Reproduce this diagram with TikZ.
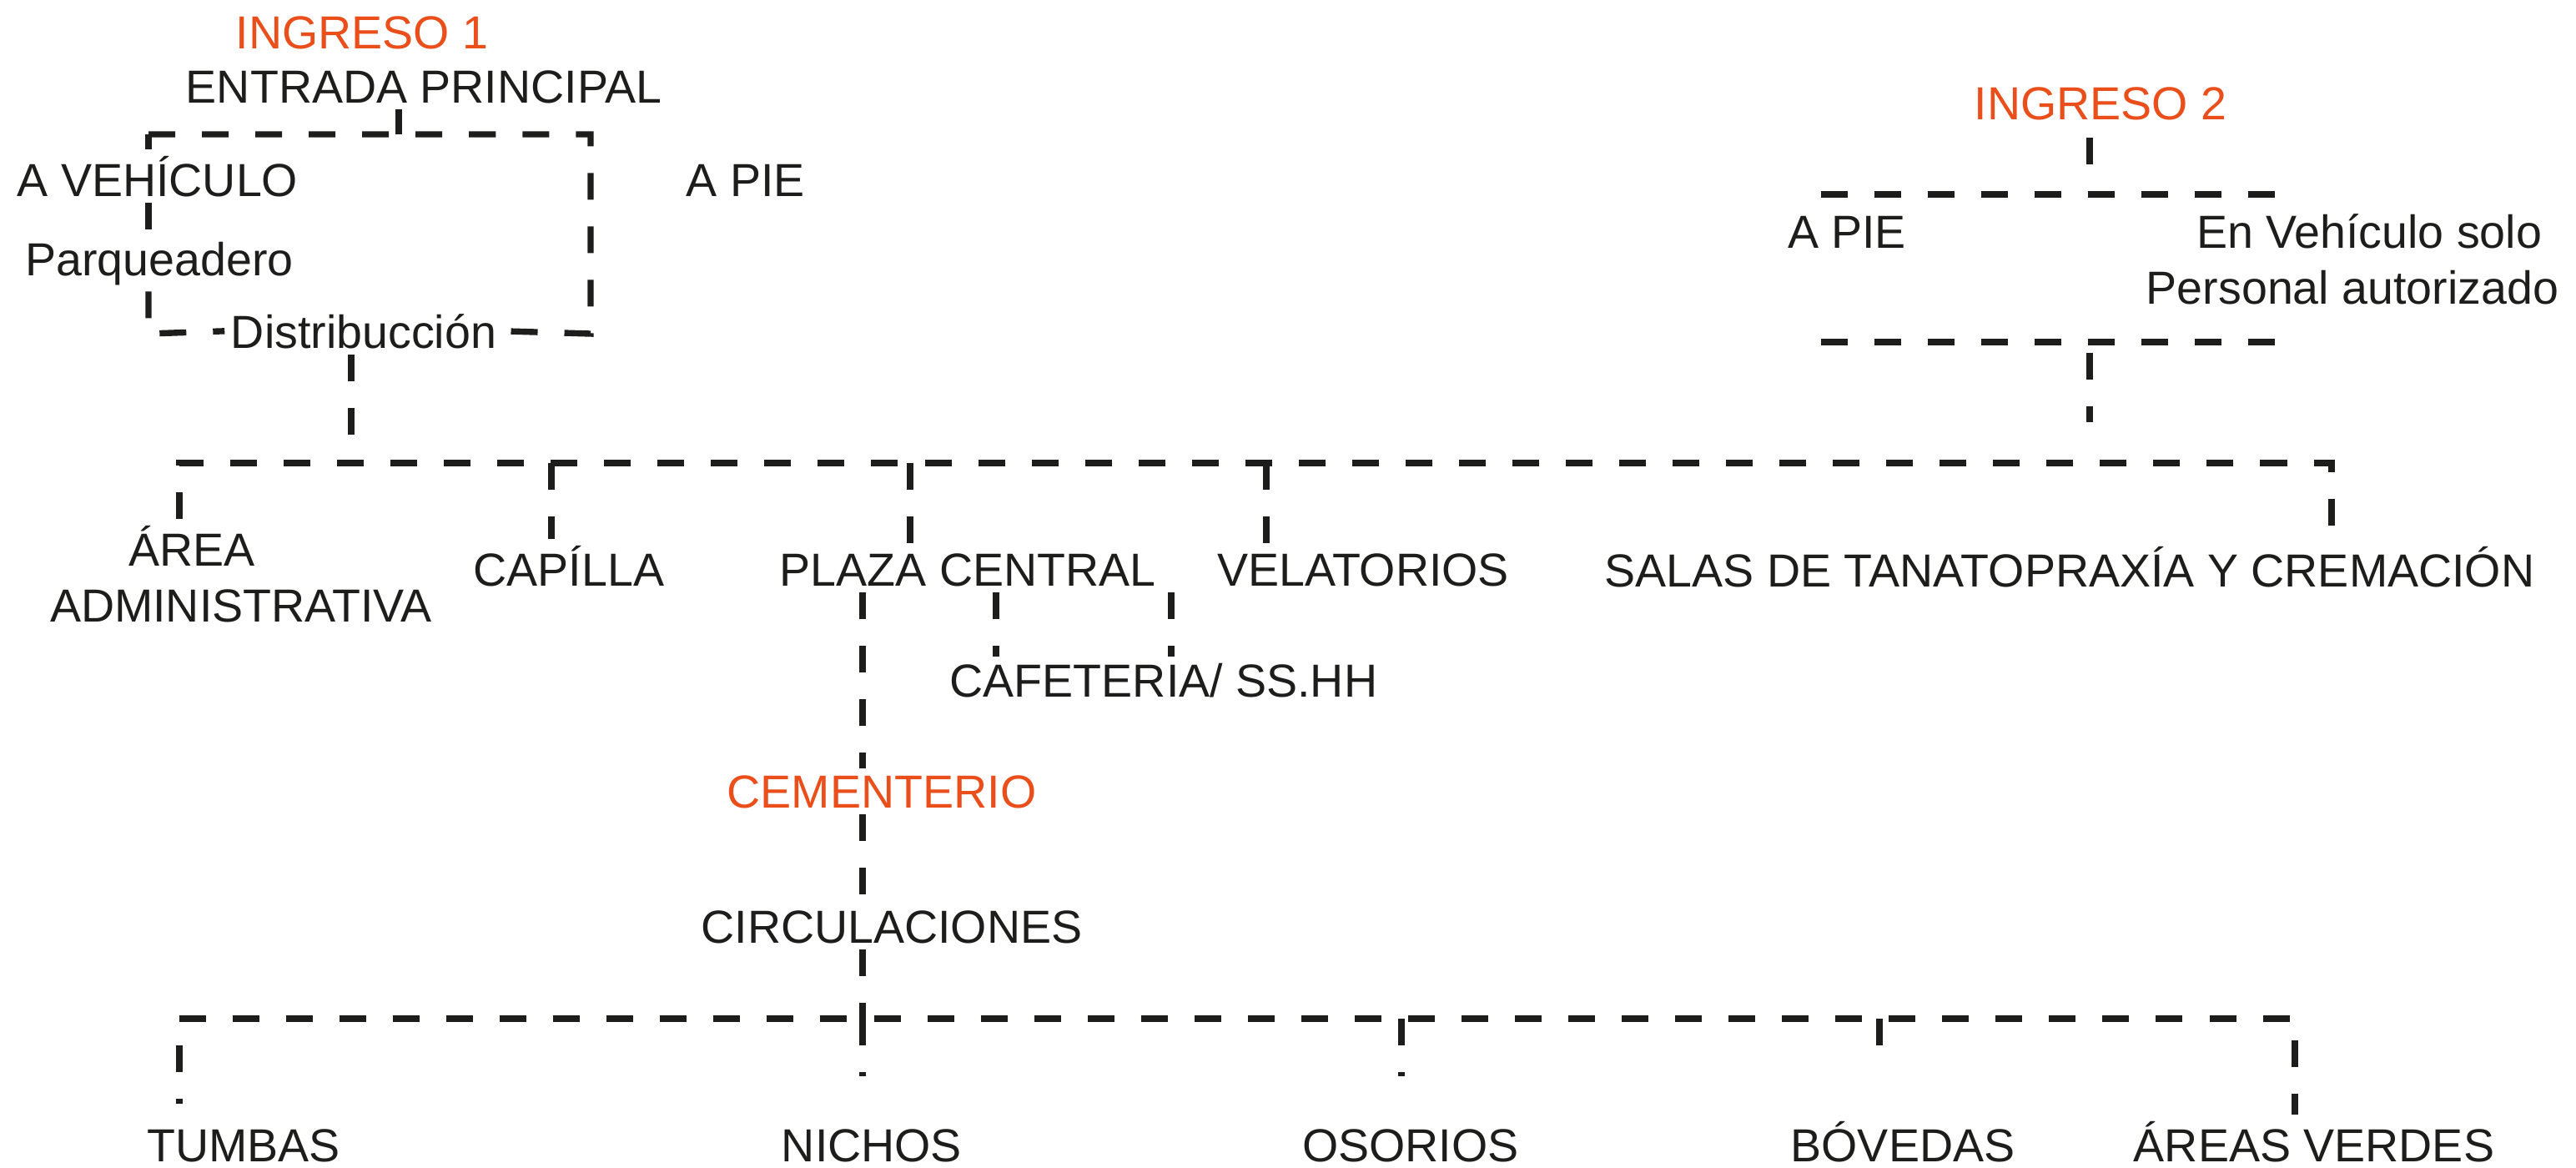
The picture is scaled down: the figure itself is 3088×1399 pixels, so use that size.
\documentclass[tikz,border=0pt]{standalone}
\usepackage{fontspec}
\setmainfont{Liberation Sans}
\usepackage{xcolor}
\usepackage{tikz}
\usetikzlibrary{positioning}
\definecolor{ingreso}{HTML}{E94E1B}
\definecolor{trazo}{HTML}{1D1D1B}

\begin{document}
\begin{tikzpicture}[x=0.01cm, y=-0.01cm, font=\fontsize{15.8}{19}\selectfont,
  lbl/.style={anchor=base, text=trazo, inner sep=2pt},
  ingr/.style={anchor=base, text=ingreso, inner sep=2pt},
  conn/.style={draw=trazo, line width=2.1pt, dash pattern=on 0.32cm off 0.32cm}]
  \useasboundingbox (0,0) rectangle (3088,1399);
  \node[ingr] (ing1) at (434,58) {INGRESO 1};
  \node[lbl] (entrada) at (508,123) {ENTRADA PRINCIPAL};
  \node[lbl] (vehiculo) at (189,235) {A VEHÍCULO};
  \node[lbl] (pie1) at (894,235) {A PIE};
  \node[lbl] (parqueo) at (191,330) {Parqueadero};
  \node[lbl] (distrib) at (436,417) {Distribucción};
  \node[ingr] (ing2) at (2518,143) {INGRESO 2};
  \node[lbl] (pie2) at (2214,297) {A PIE};
  \node[lbl] (vehic2) at (2840,297) {En Vehículo solo};
  \node[lbl] (personal) at (2820,364) {Personal autorizado};
  \node[lbl] (area) at (230,678) {ÁREA};
  \node[lbl] (admin) at (289,745) {ADMINISTRATIVA};
  \node[lbl] (capilla) at (682,702) {CAPÍLLA};
  \node[lbl] (plaza) at (1160,702) {PLAZA CENTRAL};
  \node[lbl] (velatorio) at (1634,702) {VELATORIOS};
  \node[lbl] (salas) at (2481,703) {SALAS DE TANATOPRAXÍA Y CREMACIÓN};
  \node[lbl] (cafe) at (1395,835) {CAFETERIA/ SS.HH};
  \node[ingr] (cement) at (1057,968) {CEMENTERIO};
  \node[lbl] (circ) at (1069,1130) {CIRCULACIONES};
  \node[lbl] (tumbas) at (292,1392) {TUMBAS};
  \node[lbl] (nichos) at (1045,1392) {NICHOS};
  \node[lbl] (osorios) at (1691,1392) {OSORIOS};
  \node[lbl] (bovedas) at (2281,1392) {BÓVEDAS};
  \node[lbl] (verdes) at (2774,1392) {ÁREAS VERDES};
  \coordinate (boxnw) at (178,161);
  \coordinate (boxne) at (708,161);
  \coordinate (boxsw) at (178,400);
  \coordinate (boxse) at (708,400);
  \coordinate (entx) at (478,161);
  \coordinate (distx) at (421,555);
  \coordinate (busl) at (215,555);
  \coordinate (busr) at (2795,555);
  \coordinate (capx) at (661,555);
  \coordinate (plazax) at (1091,555);
  \coordinate (velx) at (1518,555);
  \coordinate (ing2top) at (2505,233);
  \coordinate (ing2bot) at (2505,410);
  \coordinate (ing2x) at (2505,555);
  \coordinate (bar1l) at (2183,233);
  \coordinate (bar1r) at (2729,233);
  \coordinate (bar2l) at (2183,410);
  \coordinate (bar2r) at (2729,410);
  \coordinate (cafa) at (1194,720);
  \coordinate (cafb) at (1404,720);
  \coordinate (col) at (1034,1221);
  \coordinate (bus2l) at (215,1221);
  \coordinate (bus2r) at (2751,1221);
  \coordinate (tumx) at (215,1221);
  \coordinate (osx) at (1680,1221);
  \coordinate (bovx) at (2253,1221);
  \draw[conn] (entrada.south -| entx) -- (entx);
  \draw[conn] (boxnw) -- (boxne) -- (boxse) -- (distrib.east);
  \draw[conn] (boxnw) -- (vehiculo.north -| boxnw);
  \draw[conn] (vehiculo.south -| boxnw) -- (parqueo.north -| boxnw);
  \draw[conn] (parqueo.south -| boxnw) -- (boxsw) -- (distrib.west);
  \draw[conn] (distrib.south -| distx) -- (distx);
  \draw[conn] (area.north -| busl) -- (busl) -- (busr) -- (salas.north -| busr);
  \foreach \n/\c in {capilla/capx, plaza/plazax, velatorio/velx} { \draw[conn] (\c) -- (\n.north -| \c); }
  \draw[conn, shorten <=0.14cm, shorten >=0.36cm] (ing2.south -| ing2top) -- (ing2top);
  \draw[conn] (bar1l) -- (bar1r);
  \draw[conn] (bar2l) -- (bar2r);
  \draw[conn, shorten <=0.13cm, shorten >=0.49cm] (ing2bot) -- (ing2x);
  \foreach \c in {cafa, cafb} { \draw[conn] (plaza.south -| \c) -- (cafe.north -| \c); }
  \draw[conn] (plaza.south -| col) -- (cement.north -| col);
  \draw[conn] (cement.south -| col) -- (circ.north -| col);
  \draw[conn] (circ.south -| col) -- (col);
  \draw[conn] (bus2l) -- (bus2r) -- (verdes.north -| bus2r);
  \draw[conn, shorten <=0.32cm, shorten >=0.22cm] (tumx) -- (tumbas.north -| tumx);
  \foreach \n/\c in {nichos/col, osorios/osx, bovedas/bovx} { \draw[conn, shorten >=0.55cm] (\c) -- (\n.north -| \c); }
\end{tikzpicture}
\end{document}
